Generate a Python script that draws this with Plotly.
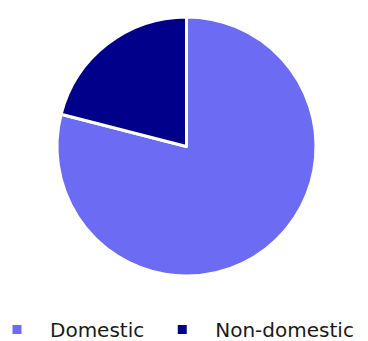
import plotly.graph_objects as go

labels = ["Domestic", "Non-domestic"]
values = [79, 21]
colors = ["#6b6bf3", "#00008b"]

fig = go.Figure(
    go.Pie(
        labels=labels,
        values=values,
        sort=False,
        direction="clockwise",
        textinfo="none",
        hoverinfo="label+percent",
        marker=dict(colors=colors, line=dict(color="white", width=3)),
        domain=dict(x=[0.1225, 0.77], y=[0.1952, 0.9730]),
    )
)

# page body adds an 8px offset; the figure is made a bit wider so the
# legend stays on one row (the overflow on the right is cut off)
fig.update_layout(
    width=400,
    height=333,
    margin=dict(l=0, r=0, t=0, b=0, autoexpand=False),
    paper_bgcolor="white",
    font=dict(family="DejaVu Sans", size=20, color="#1a1a1a"),
    legend=dict(orientation="h", x=-0.06, xanchor="left", y=-0.024, yanchor="bottom",
                itemwidth=56),
)

fig.write_html("out.html")
